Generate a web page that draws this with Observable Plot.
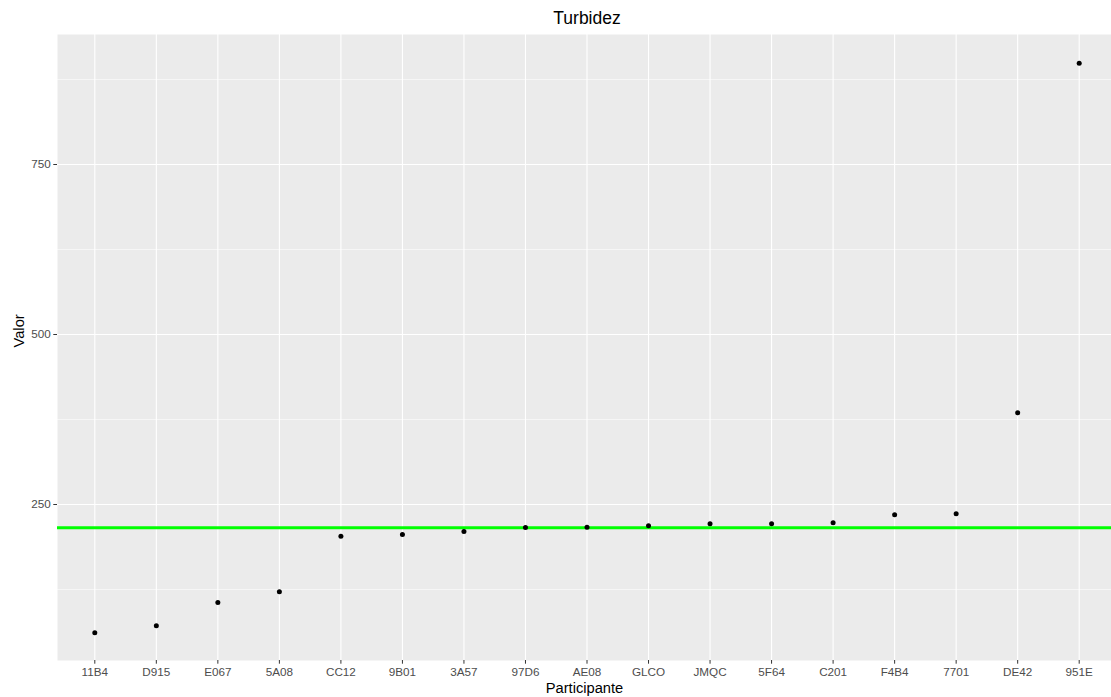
<!DOCTYPE html>
<html>
<head>
<meta charset="utf-8">
<script src="https://cdn.jsdelivr.net/npm/d3@7"></script>
<script src="https://cdn.jsdelivr.net/npm/@observablehq/plot@0.6"></script>
<style>
  html, body { margin: 0; padding: 0; background: #ffffff; }
  #wrap { position: relative; width: 1111px; height: 697px; overflow: hidden; font-family: "Liberation Sans", Arial, sans-serif; }
  #title { position: absolute; left: 587px; top: 0; height: 34px; line-height: 36px; transform: translateX(-50%); font-size: 17.5px; color: #000; white-space: nowrap; }
  #chart { position: absolute; left: 0; top: 34px; }
</style>
</head>
<body>
<div id="wrap">
  <div id="title">Turbidez</div>
  <div id="chart"></div>
</div>
<script>
const participants = ["11B4","D915","E067","5A08","CC12","9B01","3A57","97D6","AE08","GLCO","JMQC","5F64","C201","F4B4","7701","DE42","951E"];
const values = [61.5, 71.6, 105.9, 121.6, 203.4, 205.9, 210.3, 216.2, 216.4, 218.6, 221.6, 221.8, 223.0, 234.8, 236.3, 384.8, 899];
const refValue = 216;
const yMajor = [250, 500, 750];
const yMinor = [125, 375, 625, 875];

const data = participants.map((p, i) => ({p, v: values[i]}));

const chart = Plot.plot({
  width: 1111,
  height: 663,
  marginLeft: 57,
  marginRight: 0,
  marginTop: 0,
  marginBottom: 37,
  style: {fontFamily: "'Liberation Sans', Arial, sans-serif", fontSize: "11.7px", background: "transparent", overflow: "visible"},
  x: {type: "point", domain: participants, range: [94.3, 1078.7], padding: 0, round: false},
  y: {domain: [20.6, 941.2]},
  marks: [
    Plot.frame({fill: "#EBEBEB", stroke: null}),
    Plot.ruleY(yMinor, {stroke: "#ffffff", strokeWidth: 0.55}),
    Plot.ruleY(yMajor, {stroke: "#ffffff", strokeWidth: 1.1}),
    Plot.ruleX(participants, {stroke: "#ffffff", strokeWidth: 1.1}),
    Plot.ruleY([refValue], {stroke: "#00FF00", strokeWidth: 3}),
    Plot.dot(data, {x: "p", y: "v", r: 2.5, fill: "#000000", stroke: null}),
    Plot.axisY({ticks: yMajor, tickSize: 3.7, tickPadding: 3, label: null, stroke: "#333333", fill: "#4D4D4D"}),
    Plot.axisX({tickSize: 3.7, tickPadding: 3, label: null, stroke: "#333333", fill: "#4D4D4D"}),
    Plot.text(["Valor"], {frameAnchor: "left", dx: -38.5, rotate: -90, fontSize: 14.7, fill: "#000000"}),
    Plot.text(["Participante"], {frameAnchor: "bottom", dy: 32, fontSize: 14.7, fill: "#000000"})
  ]
});
document.getElementById("chart").appendChild(chart);
</script>
</body>
</html>
